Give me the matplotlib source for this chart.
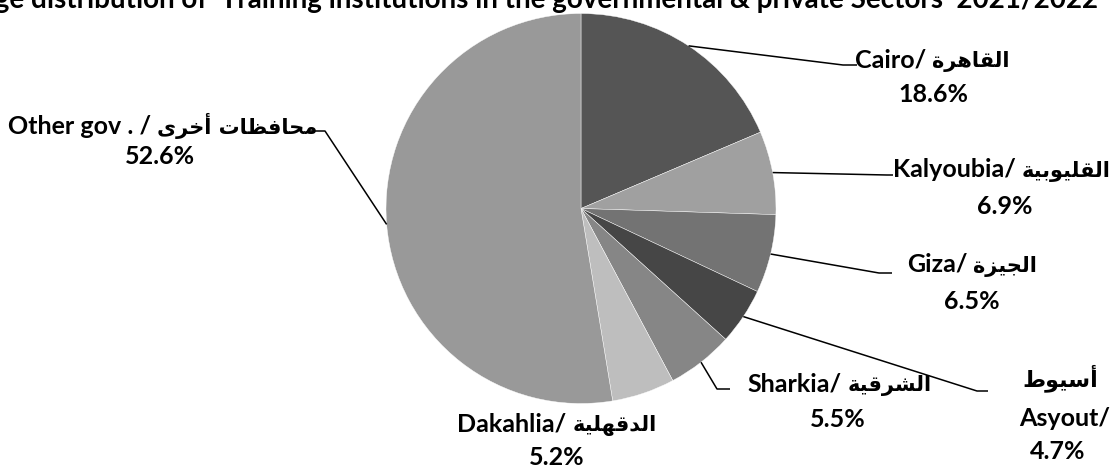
import numpy as np
import matplotlib
matplotlib.use("Agg")
import matplotlib.pyplot as plt

# ---------------- data ----------------
labels_en = ["Cairo", "Kalyoubia", "Giza", "Asyout", "Sharkia", "Dakahlia", "Other gov ."]
labels_ar = ["القاهرة", "القليوبية", "الجيزة", "أسيوط", "الشرقية", "الدقهلية", "محافظات أخرى"]
values = [18.6, 6.9, 6.5, 4.7, 5.5, 5.2, 52.6]
colors = ["#555555", "#a0a0a0", "#737373", "#464646", "#868686", "#bebebe", "#999999"]
title = "Percentage distribution of  Training institutions in the governmental & private Sectors  2021/2022"

# ---------------- simple Arabic shaping ----------------
FORMS = {  # iso, fin, ini, med
    "ا": (0xFE8D, 0xFE8E, None, None), "أ": (0xFE83, 0xFE84, None, None),
    "ب": (0xFE8F, 0xFE90, 0xFE91, 0xFE92), "ة": (0xFE93, 0xFE94, None, None),
    "ت": (0xFE95, 0xFE96, 0xFE97, 0xFE98), "ج": (0xFE9D, 0xFE9E, 0xFE9F, 0xFEA0),
    "ح": (0xFEA1, 0xFEA2, 0xFEA3, 0xFEA4), "خ": (0xFEA5, 0xFEA6, 0xFEA7, 0xFEA8),
    "د": (0xFEA9, 0xFEAA, None, None), "ر": (0xFEAD, 0xFEAE, None, None),
    "ز": (0xFEAF, 0xFEB0, None, None), "س": (0xFEB1, 0xFEB2, 0xFEB3, 0xFEB4),
    "ش": (0xFEB5, 0xFEB6, 0xFEB7, 0xFEB8), "ط": (0xFEC1, 0xFEC2, 0xFEC3, 0xFEC4),
    "ظ": (0xFEC5, 0xFEC6, 0xFEC7, 0xFEC8), "ف": (0xFED1, 0xFED2, 0xFED3, 0xFED4),
    "ق": (0xFED5, 0xFED6, 0xFED7, 0xFED8), "ل": (0xFEDD, 0xFEDE, 0xFEDF, 0xFEE0),
    "م": (0xFEE1, 0xFEE2, 0xFEE3, 0xFEE4), "ه": (0xFEE9, 0xFEEA, 0xFEEB, 0xFEEC),
    "و": (0xFEED, 0xFEEE, None, None), "ى": (0xFEEF, 0xFEF0, None, None),
    "ي": (0xFEF1, 0xFEF2, 0xFEF3, 0xFEF4),
}


def shape_word(w):
    out = []
    n = len(w)
    for i, ch in enumerate(w):
        f = FORMS.get(ch)
        if f is None:
            out.append(ch)
            continue
        prev_joins = i > 0 and w[i - 1] in FORMS and FORMS[w[i - 1]][2] is not None
        next_joins = i < n - 1 and w[i + 1] in FORMS and f[2] is not None
        if prev_joins and next_joins:
            c = f[3]
        elif prev_joins:
            c = f[1]
        elif next_joins:
            c = f[2]
        else:
            c = f[0]
        out.append(chr(c))
    return "".join(out)


def ar_visual(s):
    words = [shape_word(w)[::-1] for w in s.split(" ")]
    return " ".join(words[::-1])


# ---------------- figure ----------------
W, H = 1112, 467
fig = plt.figure(figsize=(W / 100, H / 100), dpi=100)
ax = fig.add_axes([0, 0, 1, 1])

cx, cy, r = 581, H - 208.5, 195
wedges, _ = ax.pie(values, colors=colors, startangle=90, counterclock=False,
                   center=(cx, cy), radius=r, frame=True,
                   wedgeprops=dict(edgecolor="white", linewidth=0.3))
ax.set_xlim(0, W)
ax.set_ylim(0, H)
ax.set_aspect("equal")
ax.axis("off")

LAT = dict(family=["Lato", "DejaVu Sans"], fontsize=18, fontweight="bold")
ARB = dict(family=["DejaVu Sans"], fontsize=15, fontweight="bold")
GAP = 6

fig.canvas.draw()
renderer = fig.canvas.get_renderer()


def place_line(parts, xc, ybase):
    """parts: list of (string, style) drawn left-to-right, centred on xc."""
    objs = []
    widths = []
    for s, st in parts:
        t = ax.text(0, H - ybase, s, ha="left", va="baseline", color="black", **st)
        objs.append(t)
        widths.append(t.get_window_extent(renderer).width)
    total = sum(widths) + GAP * (len(parts) - 1)
    x = xc - total / 2
    for t, w in zip(objs, widths):
        t.set_x(x)
        x += w + GAP


# label layout (pixel coords, y from top): line-1 centre x, baselines
line1 = [(932, 67), (1002, 177), (972, 272), None, (840, 391), (557, 431), (163, 134)]
line2 = [(933, 102), (1005, 214), (972, 309), (1058, 459), (838, 427), (557, 465), (160, 164)]
leaders = [
    [(843, 65), (857, 65)],
    [(887, 175), (893, 175)],
    [(879, 273), (892, 273)],
    [(977, 391), (988, 391)],
    [(717, 389), (730, 389)],
    None,
    [(325, 131), (308, 131)],
]

for i, (w, en, ar, v) in enumerate(zip(wedges, labels_en, labels_ar, values)):
    mid = np.deg2rad((w.theta1 + w.theta2) / 2)
    if leaders[i] is not None:
        px = [cx + r * np.cos(mid)] + [p[0] for p in leaders[i]]
        py = [cy + r * np.sin(mid)] + [H - p[1] for p in leaders[i]]
        ax.plot(px, py, color="black", lw=1.1, solid_capstyle="butt")
    arv = ar_visual(ar)
    if en == "Asyout":
        place_line([(arv, dict(ARB, fontsize=16))], 1060, 386)
        place_line([(en + "/", LAT)], 1065, 426)
    elif en.startswith("Other"):
        place_line([(en + " /", LAT), (arv, ARB)], *line1[i])
    else:
        place_line([(en + "/", LAT), (arv, ARB)], *line1[i])
    place_line([(f"{v:.1f}%", LAT)], *line2[i])

fig.text(1098 / W, (H - 8) / H, title, ha="right", va="baseline", fontsize=20,
         fontweight="bold", family=["Lato", "DejaVu Sans"])

fig.savefig("out.png", dpi=100)
